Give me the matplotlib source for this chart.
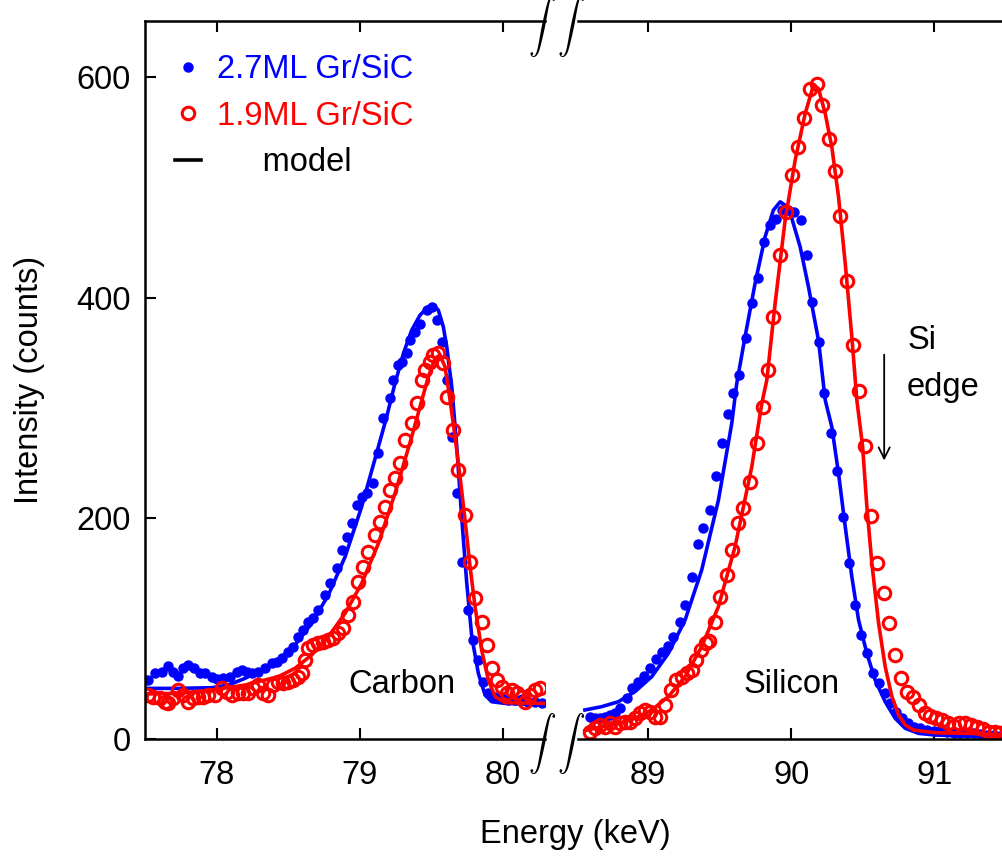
import matplotlib.pyplot as plt
from matplotlib.lines import Line2D

plt.rcParams["font.family"] = ["Liberation Sans", "DejaVu Sans"]
plt.rcParams["mathtext.fontset"] = "cm"

# carbon peak, 2.7ML (blue dots)
c_e_27 = [77.523, 77.570, 77.617, 77.663, 77.698, 77.733, 77.768, 77.803, 77.845, 77.885,
          77.920, 77.966, 78.001, 78.048, 78.094, 78.141, 78.176, 78.211, 78.246, 78.293,
          78.339, 78.386, 78.421, 78.456, 78.502, 78.537, 78.572, 78.607, 78.642, 78.677,
          78.712, 78.759, 78.794, 78.840, 78.875, 78.910, 78.945, 78.980, 79.015, 79.050,
          79.097, 79.132, 79.167, 79.213, 79.237, 79.272, 79.295, 79.330, 79.353, 79.388,
          79.423, 79.470, 79.505, 79.540, 79.575, 79.610, 79.645, 79.680, 79.714, 79.761,
          79.796, 79.831, 79.866, 79.901, 79.948, 79.994, 80.041, 80.088, 80.134, 80.181,
          80.227, 80.274]
c_i_27 = [53.5, 59.5, 61.0, 66.2, 61.0, 57.1, 64.0, 67.0, 64.0, 60.1,
          59.5, 56.5, 54.1, 55.0, 56.0, 61.0, 62.5, 61.0, 59.5, 61.0,
          64.0, 68.6, 70.0, 73.1, 79.2, 83.7, 92.7, 98.8, 106.4, 109.4,
          117.0, 130.5, 141.1, 154.7, 171.3, 183.4, 195.5, 212.1, 219.6, 222.7,
          231.7, 258.9, 290.7, 308.8, 325.4, 339.0, 342.0, 349.6, 361.6, 369.2,
          376.7, 388.8, 391.9, 379.8, 360.1, 325.4, 274.0, 222.7, 160.7, 117.0,
          89.7, 71.6, 52.0, 41.4, 38.4, 36.9, 35.3, 35.3, 35.9, 33.8,
          33.8, 32.3]

# carbon peak, 1.9ML (red circles)
c_e_19 = [77.523, 77.558, 77.605, 77.640, 77.663, 77.698, 77.733, 77.768, 77.803, 77.838,
          77.873, 77.908, 77.943, 77.990, 78.036, 78.071, 78.106, 78.153, 78.188, 78.223,
          78.258, 78.293, 78.328, 78.362, 78.397, 78.432, 78.467, 78.502, 78.537, 78.572,
          78.596, 78.619, 78.642, 78.677, 78.712, 78.747, 78.782, 78.817, 78.852, 78.887,
          78.922, 78.957, 78.992, 79.027, 79.062, 79.108, 79.143, 79.178, 79.213, 79.248,
          79.283, 79.318, 79.365, 79.400, 79.435, 79.458, 79.493, 79.516, 79.551, 79.586,
          79.610, 79.656, 79.691, 79.738, 79.773, 79.808, 79.854, 79.889, 79.924, 79.959,
          79.994, 80.029, 80.064, 80.099, 80.134, 80.157, 80.192, 80.227, 80.262]
c_i_19 = [39.9, 38.4, 36.8, 33.8, 32.3, 36.8, 44.4, 39.9, 33.8, 36.8,
          38.4, 38.4, 39.9, 39.9, 45.9, 42.9, 39.9, 41.4, 41.4, 41.4,
          45.9, 48.9, 41.4, 39.9, 48.9, 52.0, 50.5, 52.0, 53.5, 56.5,
          59.5, 71.6, 82.2, 85.2, 86.7, 88.2, 89.7, 91.2, 95.8, 100.3,
          112.4, 124.5, 142.6, 156.2, 169.8, 184.9, 197.0, 210.6, 225.7, 236.3,
          249.9, 271.0, 286.1, 304.2, 325.4, 334.4, 342.0, 348.1, 349.6, 340.5,
          310.3, 280.1, 243.8, 203.0, 160.7, 127.5, 106.3, 85.2, 64.1, 53.5,
          47.4, 41.4, 44.4, 41.4, 38.4, 33.8, 39.9, 44.4, 45.9]

# carbon model curves
cm_e_27 = [77.500, 77.733, 77.966, 78.083, 78.199, 78.316, 78.432, 78.549, 78.665, 78.782,
           78.899, 79.015, 79.132, 79.190, 79.248, 79.307, 79.365, 79.423, 79.481, 79.516,
           79.551, 79.586, 79.610, 79.645, 79.680, 79.714, 79.750, 79.785, 79.831, 79.878,
           79.924, 80.017, 80.297]
cm_i_27 = [45.9, 45.9, 46.5, 48.9, 55.0, 62.5, 71.6, 85.2, 104.8, 130.5,
           165.2, 210.6, 265.0, 292.2, 322.4, 349.6, 370.7, 384.3, 391.9, 393.4,
           388.8, 373.7, 355.6, 319.3, 265.0, 201.5, 141.1, 92.7, 59.5, 39.9,
           33.8, 32.3, 30.8]
cm_e_19 = [77.500, 77.733, 77.966, 78.199, 78.432, 78.549, 78.665, 78.782, 78.899, 79.015,
           79.132, 79.248, 79.365, 79.423, 79.481, 79.528, 79.563, 79.598, 79.633, 79.668,
           79.703, 79.738, 79.773, 79.808, 79.854, 79.901, 79.948, 80.017, 80.297]
cm_i_19 = [40.8, 41.4, 44.4, 48.9, 56.5, 64.1, 76.1, 92.7, 113.9, 141.1,
           177.3, 222.7, 274.0, 301.2, 328.4, 345.0, 348.1, 337.5, 307.3, 274.0,
           237.8, 198.5, 156.2, 119.9, 80.7, 53.5, 38.4, 32.9, 32.3]

# silicon peak, 2.7ML (blue dots)
s_e_27 = [88.594, 88.629, 88.664, 88.699, 88.734, 88.769, 88.804, 88.851, 88.886, 88.932,
          88.974, 89.014, 89.054, 89.096, 89.142, 89.177, 89.224, 89.259, 89.305, 89.352,
          89.387, 89.434, 89.473, 89.515, 89.562, 89.597, 89.636, 89.683, 89.725, 89.767,
          89.811, 89.853, 89.893, 89.935, 89.977, 90.023, 90.070, 90.110, 90.149, 90.196,
          90.233, 90.277, 90.319, 90.359, 90.401, 90.448, 90.490, 90.529, 90.569, 90.611,
          90.653, 90.692, 90.732, 90.774, 90.816, 90.856, 90.902, 90.949, 90.995, 91.042,
          91.089, 91.135, 91.182, 91.228, 91.275, 91.322, 91.368, 91.415, 91.462]
s_i_27 = [20.2, 18.7, 18.7, 19.6, 21.7, 23.2, 27.8, 36.9, 45.9, 52.0,
          57.1, 64.0, 72.2, 79.1, 84.3, 92.7, 106.3, 121.4, 147.1, 176.7,
          190.9, 207.6, 238.4, 268.0, 294.3, 313.9, 329.9, 363.2, 394.9, 418.4,
          450.8, 465.9, 471.9, 479.5, 479.5, 478.0, 471.0, 438.7, 396.4, 360.1,
          313.9, 277.0, 243.2, 200.9, 159.8, 121.4, 94.3, 77.6, 60.1, 50.4,
          41.4, 32.3, 24.8, 18.7, 14.2, 11.2, 9.7, 8.1, 7.5, 7.5,
          6.6, 5.7, 5.1, 5.1, 5.1, 4.5, 3.6, 3.6, 2.7]

# silicon peak, 1.9ML (red circles)
s_e_19 = [88.594, 88.629, 88.664, 88.699, 88.734, 88.769, 88.804, 88.839, 88.874, 88.909,
          88.944, 88.979, 89.014, 89.049, 89.084, 89.119, 89.161, 89.193, 89.235, 89.270,
          89.305, 89.333, 89.371, 89.403, 89.427, 89.469, 89.503, 89.550, 89.585, 89.627,
          89.667, 89.713, 89.760, 89.800, 89.837, 89.876, 89.923, 89.963, 90.005, 90.051,
          90.093, 90.133, 90.180, 90.219, 90.261, 90.303, 90.343, 90.389, 90.429, 90.471,
          90.513, 90.560, 90.599, 90.646, 90.681, 90.723, 90.769, 90.809, 90.849, 90.890,
          90.932, 90.972, 91.012, 91.054, 91.095, 91.135, 91.175, 91.217, 91.259, 91.298,
          91.338, 91.380, 91.422, 91.462]
s_i_19 = [6.6, 9.7, 12.7, 11.2, 14.2, 11.2, 14.2, 15.7, 15.7, 18.7,
          23.2, 26.3, 24.8, 20.2, 20.2, 30.8, 44.4, 53.5, 56.5, 59.5,
          62.5, 71.6, 80.7, 86.7, 89.1, 106.3, 129.0, 148.6, 171.3, 195.5,
          209.1, 233.2, 268.6, 300.6, 334.4, 382.8, 438.7, 478.0, 511.2, 536.9,
          562.6, 589.7, 593.7, 574.6, 544.4, 515.1, 474.3, 415.1, 357.1, 315.7,
          265.6, 202.1, 159.2, 132.6, 104.8, 76.1, 55.0, 42.9, 38.4, 30.8,
          23.2, 20.8, 18.7, 17.2, 14.2, 11.8, 14.2, 14.2, 12.7, 11.2,
          8.8, 6.6, 6.6, 5.7]

# silicon model curves
sm_e_27 = [88.559, 88.676, 88.793, 88.909, 89.026, 89.142, 89.259, 89.375, 89.492, 89.585,
           89.620, 89.678, 89.748, 89.818, 89.876, 89.923, 89.958, 90.005, 90.063, 90.121,
           90.191, 90.238, 90.284, 90.331, 90.378, 90.424, 90.471, 90.529, 90.587, 90.657,
           90.727, 90.797, 90.890, 91.007, 91.240, 91.473]
sm_i_27 = [26.3, 29.3, 33.8, 42.9, 56.5, 77.6, 107.8, 153.2, 216.6, 286.1,
           322.4, 364.7, 413.0, 455.3, 479.5, 487.0, 484.0, 471.9, 446.2, 410.0,
           361.6, 307.3, 283.1, 240.8, 192.4, 147.1, 107.9, 77.6, 53.5, 33.8,
           18.7, 9.7, 5.1, 3.6, 2.7, 2.1]
sm_e_19 = [88.559, 88.676, 88.793, 88.909, 89.026, 89.142, 89.259, 89.375, 89.492, 89.608,
           89.725, 89.795, 89.830, 89.888, 89.958, 90.028, 90.098, 90.156, 90.191, 90.238,
           90.284, 90.331, 90.378, 90.424, 90.459, 90.499, 90.529, 90.564, 90.611, 90.657,
           90.704, 90.751, 90.797, 90.856, 91.007, 91.240, 91.473]
sm_i_19 = [7.5, 11.2, 14.2, 18.7, 26.3, 38.4, 56.5, 83.7, 120.0, 174.3,
           246.8, 304.2, 325.4, 394.9, 470.4, 524.8, 567.1, 592.8, 589.7, 567.1,
           536.9, 491.6, 431.1, 364.7, 307.2, 265.6, 210.6, 159.2, 104.8, 65.6,
           38.4, 21.8, 12.7, 8.1, 5.7, 5.1, 3.6]

FS = 23.5
fig = plt.figure(figsize=(10.03, 8.65), dpi=100)
fig.set_facecolor("white")

bottom = 1 - 739 / 865
height = (739 - 21) / 865
ax1 = fig.add_axes([145 / 1003, bottom, 400 / 1003, height])
ax2 = fig.add_axes([578 / 1003, bottom, (1003 - 578) / 1003, height])

dot = dict(color="blue", marker="o", linestyle="none", markersize=6.5)
ring = dict(color="red", marker="o", linestyle="none", markersize=9,
            markerfacecolor="none", markeredgewidth=2.2)

for ax, e27, i27, e19, i19, me27, mi27, me19, mi19 in [
    (ax1, c_e_27, c_i_27, c_e_19, c_i_19, cm_e_27, cm_i_27, cm_e_19, cm_i_19),
    (ax2, s_e_27, s_i_27, s_e_19, s_i_19, sm_e_27, sm_i_27, sm_e_19, sm_i_19),
]:
    ax.plot(e27, i27, **dot)
    ax.plot(me27, mi27, color="blue", linewidth=2.6)
    ax.plot(e19, i19, **ring)
    ax.plot(me19, mi19, color="red", linewidth=2.6)
    ax.set_ylim(0, 651)
    ax.spines["right"].set_visible(False)
    for s in ["top", "bottom", "left"]:
        ax.spines[s].set_linewidth(1.8)
    ax.tick_params(axis="x", direction="in", top=True, length=8, width=1.5,
                   labelsize=FS, pad=15)
    ax.tick_params(axis="y", direction="in", length=8, width=1.5,
                   labelsize=FS, pad=10)

ax1.set_xlim(77.5, 80.297)
ax1.set_xticks([78, 79, 80])
ax1.set_yticks([0, 200, 400, 600])

ax2.set_xlim(88.511, 91.48)
ax2.set_xticks([89, 90, 91])
ax2.spines["left"].set_visible(False)
ax2.tick_params(axis="y", left=False, labelleft=False)

ax1.text(79.30, 49, "Carbon", fontsize=FS, ha="center", va="center")
ax2.text(90.0, 49, "Silicon", fontsize=FS, ha="center", va="center")
ax2.text(90.81, 340, "Si\nedge", fontsize=FS, ha="left", va="center", linespacing=1.65)
ax2.annotate("", xy=(90.65, 250), xytext=(90.65, 351),
             arrowprops=dict(arrowstyle="->", color="black", lw=1.3,
                             mutation_scale=20))

# break marks
for xp in [542, 571]:
    for yp in [27, 743]:
        fig.text(xp / 1003, 1 - yp / 865, r"$\int$", fontsize=20,
                 ha="center", va="center")

handles = [
    Line2D([], [], **dot),
    Line2D([], [], **ring),
    Line2D([], [], color="black", linewidth=2.6),
]
labels = ["2.7ML Gr/SiC", "1.9ML Gr/SiC", "     model"]
ax1.legend(handles, labels, loc="upper left", bbox_to_anchor=(30 / 400, 0.954),
           frameon=False, fontsize=FS, handlelength=0.8, handletextpad=0.5,
           labelspacing=0.48, borderaxespad=0, borderpad=0,
           labelcolor=["blue", "red", "black"])

fig.text(575 / 1003, 1 - 835 / 865, "Energy (keV)", fontsize=FS,
         ha="center", va="center")
fig.text(30 / 1003, 1 - 380 / 865, "Intensity (counts)", fontsize=FS,
         ha="center", va="center", rotation=90)

plt.savefig("out.png", dpi=100, facecolor="white")
